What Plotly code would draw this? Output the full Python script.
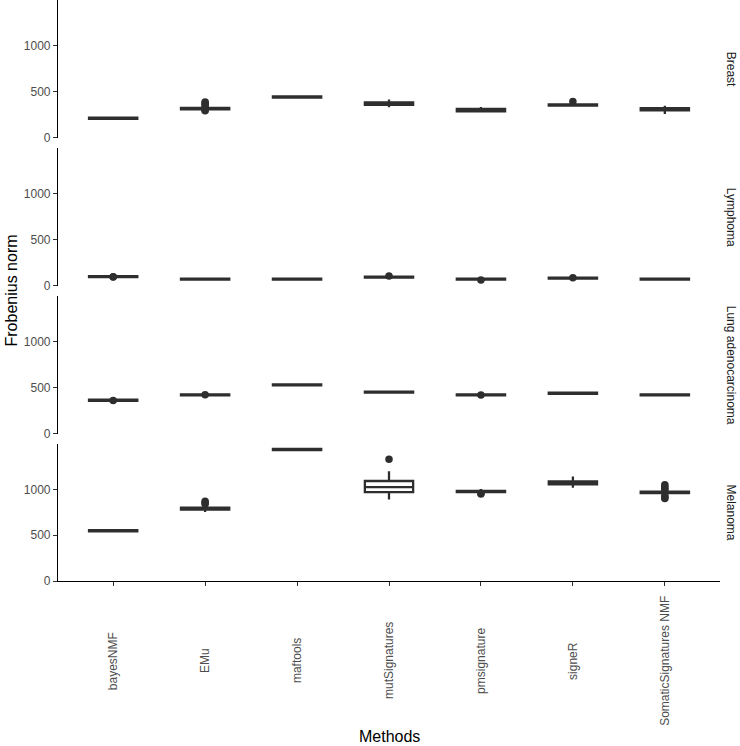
import plotly.graph_objects as go

# Methods on the x axis, cancer types as facet rows
methods = ["bayesNMF", "EMu", "maftools", "mutSignatures", "pmsignature",
           "signeR", "SomaticSignatures NMF"]
cancers = ["Breast", "Lymphoma", "Lung adenocarcinoma", "Melanoma"]

# Box statistics (Frobenius norm)
breast_q1 = [203, 307, 434, 356, 285, 347, 296]
breast_med = [209, 314, 440, 368, 297, 353, 306]
breast_q3 = [215, 321, 446, 382, 310, 360, 318]
breast_lo = [203, 307, 434, 330, 285, 347, 255]
breast_hi = [215, 321, 446, 412, 332, 360, 345]
breast_out_x = ["EMu", "EMu", "EMu", "EMu", "EMu", "EMu", "signeR"]
breast_out_y = [290, 300, 340, 360, 375, 385, 392]

lymph_q1 = [91, 63, 63, 85, 63, 74, 63]
lymph_med = [97, 69, 69, 91, 69, 80, 69]
lymph_q3 = [103, 75, 75, 97, 75, 86, 75]
lymph_lo = [91, 63, 63, 85, 63, 74, 63]
lymph_hi = [103, 75, 75, 97, 75, 86, 75]
lymph_out_x = ["bayesNMF", "bayesNMF", "mutSignatures", "pmsignature", "signeR"]
lymph_out_y = [92, 96, 103, 60, 84]

lung_q1 = [356, 414, 523, 444, 414, 431, 414]
lung_med = [362, 420, 529, 450, 420, 437, 420]
lung_q3 = [368, 426, 535, 456, 426, 443, 426]
lung_lo = [356, 414, 523, 444, 414, 431, 414]
lung_hi = [368, 426, 535, 456, 426, 443, 426]
lung_out_x = ["bayesNMF", "EMu", "pmsignature"]
lung_out_y = [360, 422, 418]

mel_q1 = [541, 780, 1428, 970, 970, 1056, 960]
mel_med = [548, 790, 1435, 1025, 976, 1070, 968]
mel_q3 = [555, 800, 1442, 1091, 983, 1086, 976]
mel_lo = [541, 752, 1428, 890, 970, 1018, 960]
mel_hi = [555, 800, 1442, 1197, 1003, 1140, 976]
mel_out_x = ["EMu", "EMu", "EMu", "mutSignatures", "pmsignature", "pmsignature",
             "SomaticSignatures NMF", "SomaticSignatures NMF", "SomaticSignatures NMF",
             "SomaticSignatures NMF", "SomaticSignatures NMF", "SomaticSignatures NMF",
             "SomaticSignatures NMF"]
mel_out_y = [840, 855, 870, 1329, 950, 958, 900, 915, 930, 995, 1010, 1030, 1050]

y_ticks = [0, 500, 1000]

panels = [
    (breast_q1, breast_med, breast_q3, breast_lo, breast_hi, breast_out_x, breast_out_y),
    (lymph_q1, lymph_med, lymph_q3, lymph_lo, lymph_hi, lymph_out_x, lymph_out_y),
    (lung_q1, lung_med, lung_q3, lung_lo, lung_hi, lung_out_x, lung_out_y),
    (mel_q1, mel_med, mel_q3, mel_lo, mel_hi, mel_out_x, mel_out_y),
]

W, H = 740, 746
M_L, M_R, M_T, M_B = 58, 20, 0, 165
plot_h = H - M_T - M_B
panel_h, gap = 137.5, 10.5

FONT = "Liberation Sans, Arial, sans-serif"
INK = "#2e2e2e"

fig = go.Figure()
layout = {}
annotations = []

for i, (q1, med, q3, lo, hi, ox, oy) in enumerate(panels):
    ax = "" if i == 0 else str(i + 1)
    fig.add_trace(go.Box(
        x=methods, q1=q1, median=med, q3=q3, lowerfence=lo, upperfence=hi,
        xaxis="x" + ax, yaxis="y" + ax, boxpoints=False,
        fillcolor="white", line=dict(color=INK, width=2.3), whiskerwidth=0,
        showlegend=False,
    ))
    fig.add_trace(go.Scatter(
        x=ox, y=oy, mode="markers", xaxis="x" + ax, yaxis="y" + ax,
        marker=dict(size=7.5, color=INK), showlegend=False,
    ))

    top_px = i * (panel_h + gap)
    bot_px = top_px + panel_h
    dom = [max(0.0, 1 - bot_px / plot_h), min(1.0, 1 - top_px / plot_h)]
    bottom = i == len(panels) - 1

    layout["xaxis" + ax] = dict(
        domain=[0, 1], anchor="y" + ax, type="category",
        categoryorder="array", categoryarray=methods, range=[-0.6, 6.6],
        showticklabels=False, showgrid=False, zeroline=False,
        showline=bottom, linecolor="black", linewidth=1.2,
        ticks="outside" if bottom else "", ticklen=4, tickcolor=INK,
    )
    layout["yaxis" + ax] = dict(
        domain=dom, anchor="x" + ax, range=[0, 1495], tickvals=y_ticks,
        showgrid=False, zeroline=False, showline=True, linecolor="black",
        linewidth=1.2, ticks="outside", ticklen=4, tickcolor=INK,
        tickfont=dict(size=12, color="#4d4d4d", family=FONT),
    )
    # facet strip label on the right
    annotations.append(dict(
        text=cancers[i], xref="paper", yref="paper", x=1, xshift=11,
        y=(dom[0] + dom[1]) / 2, textangle=90, showarrow=False,
        xanchor="center", yanchor="middle",
        font=dict(size=12, color="#1a1a1a", family=FONT),
    ))

# rotated, centred method labels under the bottom panel
for m in methods:
    annotations.append(dict(
        text=m, xref="x4", yref="paper", x=m, y=0, yshift=-80,
        textangle=-90, showarrow=False, xanchor="center", yanchor="middle",
        font=dict(size=12, color="#4d4d4d", family=FONT),
    ))

annotations.append(dict(
    text="Methods", xref="paper", yref="paper", x=0.5, y=0, yshift=-155,
    showarrow=False, xanchor="center", yanchor="middle",
    font=dict(size=16, color="black", family=FONT),
))
annotations.append(dict(
    text="Frobenius norm", xref="paper", yref="paper", x=0, xshift=-47, y=0.5,
    textangle=-90, showarrow=False, xanchor="center", yanchor="middle",
    font=dict(size=16, color="black", family=FONT),
))

fig.update_layout(
    width=W, height=H,
    margin=dict(l=M_L, r=M_R, t=M_T, b=M_B),
    plot_bgcolor="white", paper_bgcolor="white",
    boxgap=0.25, font=dict(family=FONT),
    annotations=annotations,
    **layout,
)

# drop the browser's default page margin so the figure sits at the corner
fig.write_html("out.html", config={"displayModeBar": False},
               post_script="document.body.style.margin='0';")
